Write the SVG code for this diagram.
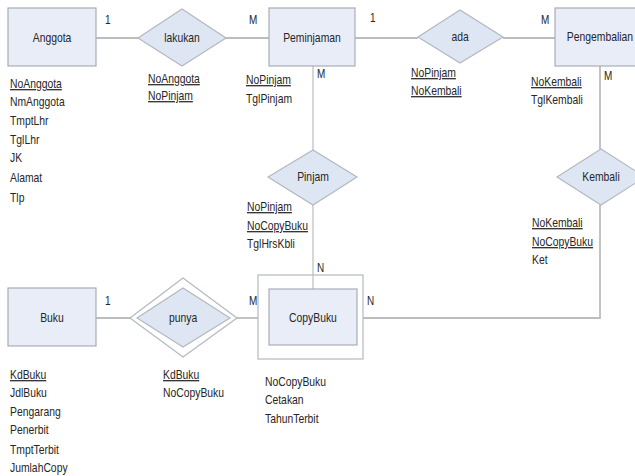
<svg xmlns="http://www.w3.org/2000/svg" width="635" height="476" viewBox="0 0 635 476">
<style>
  .ent { fill: #e8edf8; stroke: #a9adb5; stroke-width: 1.2; }
  .rel { fill: #dfe6f3; stroke: #b3b8c0; stroke-width: 1.2; }
  .wk { fill: #ffffff; stroke: #b3b8c0; stroke-width: 1.2; }
  .ln { stroke: #bdbdbd; stroke-width: 1.8; fill: none; }
  .thin { stroke-width: 1.2; }
  text { font-family: "Liberation Sans", Arial, sans-serif; font-size: 12.5px; fill: #262626;
         transform-box: fill-box; transform-origin: left center; transform: scaleX(0.83); }
  .lbl { text-anchor: middle; transform-origin: center; }
  .card { font-size: 12px; }
  .key { text-decoration: underline; }
</style>

<!-- connectors -->
<g id="connectors">
  <line class="ln" x1="96" y1="38" x2="138" y2="38"/>
  <line class="ln" x1="226" y1="38" x2="269" y2="38"/>
  <line class="ln" x1="355" y1="38" x2="418" y2="38"/>
  <line class="ln" x1="503" y1="38" x2="555" y2="38"/>
  <line class="ln thin" x1="313" y1="66" x2="313" y2="150"/>
  <line class="ln thin" x1="313" y1="205" x2="313" y2="289"/>
  <line class="ln" x1="600" y1="66" x2="600" y2="149"/>
  <polyline class="ln" points="600,205 600,318 357,318"/>
  <line class="ln" x1="96" y1="318" x2="130" y2="318"/>
  <line class="ln" x1="237" y1="318" x2="269" y2="318"/>
</g>

<!-- cardinalities -->
<g id="cardinalities">
  <text class="card" x="105" y="24">1</text>
  <text class="card" x="249" y="24">M</text>
  <text class="card" x="370" y="22">1</text>
  <text class="card" x="541" y="24">M</text>
  <text class="card" x="317" y="78">M</text>
  <text class="card" x="604" y="80">M</text>
  <text class="card" x="317" y="272">N</text>
  <text class="card" x="367" y="305">N</text>
  <text class="card" x="249" y="305">M</text>
  <text class="card" x="105" y="305">1</text>
</g>

<g id="anggota">
  <rect class="ent" x="8" y="8" width="88" height="58"/>
  <text class="lbl" x="52" y="42">Anggota</text>
  <text class="key" x="10" y="88">NoAnggota</text>
  <text x="10" y="106">NmAnggota</text>
  <text x="10" y="125">TmptLhr</text>
  <text x="10" y="144">TglLhr</text>
  <text x="10" y="162">JK</text>
  <text x="10" y="182">Alamat</text>
  <text x="10" y="202">Tlp</text>
</g>

<g id="lakukan">
  <polygon class="rel" points="138,38 182,9 226,38 182,66"/>
  <text class="lbl" x="182" y="42">lakukan</text>
  <text class="key" x="148" y="83">NoAnggota</text>
  <text class="key" x="148" y="100">NoPinjam</text>
</g>

<g id="peminjaman">
  <rect class="ent" x="269" y="8" width="86" height="58"/>
  <text class="lbl" x="312" y="42">Peminjaman</text>
  <text class="key" x="246" y="84">NoPinjam</text>
  <text x="246" y="103">TglPinjam</text>
</g>

<g id="ada">
  <polygon class="rel" points="418,37 460,10 503,37 460,63"/>
  <text class="lbl" x="460" y="41">ada</text>
  <text class="key" x="411" y="77">NoPinjam</text>
  <text class="key" x="411" y="95">NoKembali</text>
</g>

<g id="pengembalian">
  <rect class="ent" x="555" y="8" width="92" height="58"/>
  <text class="lbl" x="600" y="41">Pengembalian</text>
  <text class="key" x="531" y="86">NoKembali</text>
  <text x="531" y="104">TglKembali</text>
</g>

<g id="pinjam">
  <polygon class="rel" points="268,177 313,150 357,177 313,205"/>
  <text class="lbl" x="313" y="181">Pinjam</text>
  <text class="key" x="247" y="211">NoPinjam</text>
  <text class="key" x="247" y="230">NoCopyBuku</text>
  <text x="247" y="248">TglHrsKbli</text>
</g>

<g id="kembali">
  <polygon class="rel" points="557,177 601,149 645,177 601,205"/>
  <text class="lbl" x="601" y="181">Kembali</text>
  <text class="key" x="532" y="227">NoKembali</text>
  <text class="key" x="532" y="246">NoCopyBuku</text>
  <text x="532" y="264">Ket</text>
</g>

<g id="buku">
  <rect class="ent" x="8" y="288" width="88" height="58"/>
  <text class="lbl" x="52" y="322">Buku</text>
  <text class="key" x="10" y="379">KdBuku</text>
  <text x="10" y="397">JdlBuku</text>
  <text x="10" y="416">Pengarang</text>
  <text x="10" y="434">Penerbit</text>
  <text x="10" y="454">TmptTerbit</text>
  <text x="10" y="472">JumlahCopy</text>
</g>

<g id="punya">
  <polygon class="wk" points="130,318 183,278 237,318 183,357"/>
  <polygon class="rel" points="137,318 183,288 230,318 183,347"/>
  <text class="lbl" x="183" y="322">punya</text>
  <text class="key" x="163" y="379">KdBuku</text>
  <text x="163" y="397">NoCopyBuku</text>
</g>

<g id="copybuku">
  <rect class="wk" x="258" y="275" width="105" height="84" fill="none"/>
  <line class="ln thin" x1="313" y1="275" x2="313" y2="289"/>
  <rect class="ent" x="269" y="289" width="88" height="56"/>
  <text class="lbl" x="313" y="322">CopyBuku</text>
  <text x="265" y="386">NoCopyBuku</text>
  <text x="265" y="404">Cetakan</text>
  <text x="265" y="423">TahunTerbit</text>
</g>
</svg>
